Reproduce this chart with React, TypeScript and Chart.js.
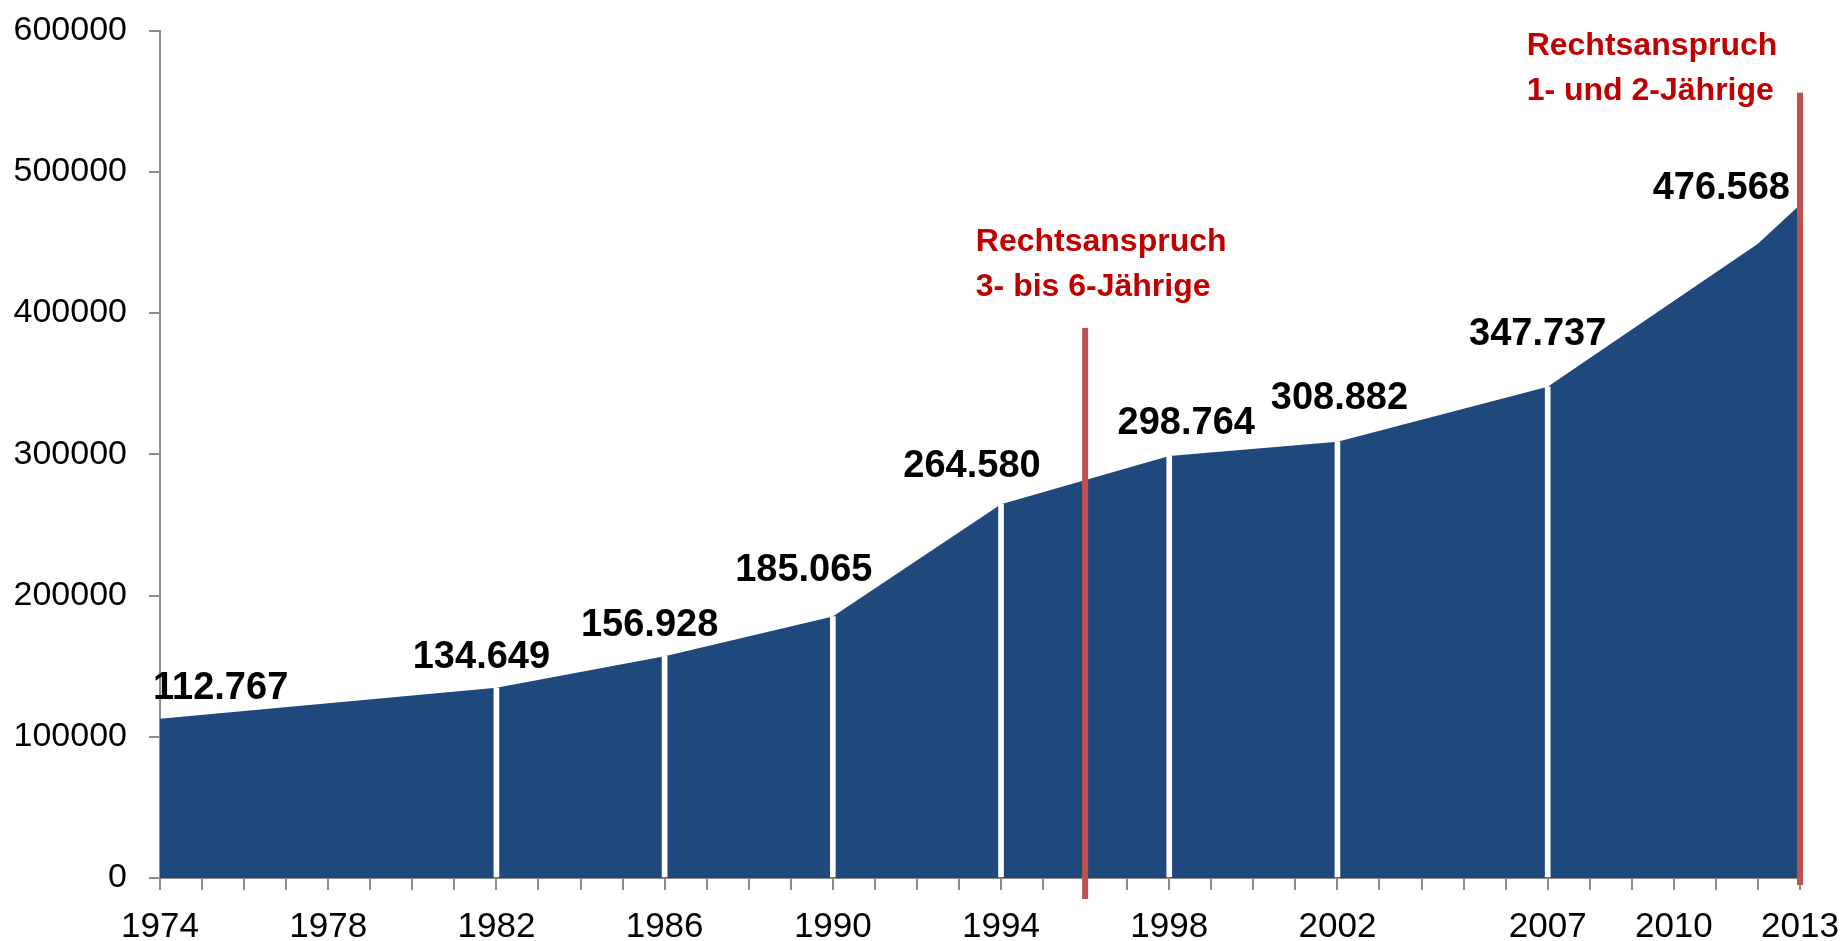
import React, { useEffect, useRef } from "react";
import { Chart, registerables } from "chart.js";

Chart.register(...registerables);

// ---- data ----
const years: string[] = [];
for (let y = 1974; y <= 2013; y++) years.push(String(y));

const pointYears = ["1974", "1982", "1986", "1990", "1994", "1998", "2002", "2007", "2012", "2013"];
const pointValues = [112767, 134649, 156928, 185065, 264580, 298764, 308882, 347737, 449000, 476568];
const labeledYears = ["1974", "1982", "1986", "1990", "1994", "1998", "2002", "2007", "2013"];
const gapYears = ["1982", "1986", "1990", "1994", "1998", "2002", "2007"];
const shownTickYears = ["1974", "1978", "1982", "1986", "1990", "1994", "1998", "2002", "2007", "2010", "2013"];

const markerYears = ["1996", "2013"];
const markerTops = [389500, 556000];
const noteLines = [
  ["Rechtsanspruch", "3- bis 6-Jährige"],
  ["Rechtsanspruch", "1- und 2-Jährige"],
];
const noteAnchorYears = [1993.4, 2006.5]; // left edge of note text, in years
const noteAnchorValues = [443800, 583000]; // baseline of first line

// manual label nudges (px) relative to the point, as placed in the original
const labelAlign = ["left", "center", "center", "center", "center", "center", "center", "center", "right"];
const labelDx = [-7, -15, -15, -29, -29, 17, 2, -10, -10];
const labelDy = [20, 20, 20, 36, 27, 22, 33, 42, 6];

const areaData = years.map((y) => {
  const i = pointYears.indexOf(y);
  return i >= 0 ? pointValues[i] : null;
});
const gapData = years.map((y) => {
  const i = pointYears.indexOf(y);
  return gapYears.includes(y) && i >= 0 ? pointValues[i] : null;
});

const annotPlugin = {
  id: "annot",
  afterDraw(chart: any) {
    const ctx = chart.ctx;
    const xs = chart.scales.x;
    const ys = chart.scales.y;
    const meta = chart.getDatasetMeta(1);
    ctx.save();
    // red marker lines
    markerYears.forEach((yr, i) => {
      const x = xs.getPixelForValue(years.indexOf(yr));
      const top = ys.getPixelForValue(markerTops[i]);
      const bottom = ys.getPixelForValue(0) + (i === 0 ? 21 : 7);
      ctx.fillStyle = "#c0504d";
      ctx.fillRect(x - 3, top, 6, bottom - top);
    });
    // notes
    ctx.fillStyle = "#c00000";
    ctx.font = "bold 32px 'Liberation Sans', Arial, sans-serif";
    ctx.textAlign = "left";
    ctx.textBaseline = "alphabetic";
    noteLines.forEach((lines, i) => {
      const x = xs.getPixelForValue(noteAnchorYears[i] - 1974);
      const y0 = ys.getPixelForValue(noteAnchorValues[i]);
      lines.forEach((t, j) => ctx.fillText(t, x, y0 + j * 45));
    });
    // data labels
    ctx.fillStyle = "#000000";
    ctx.font = "bold 38px 'Liberation Sans', Arial, sans-serif";
    labeledYears.forEach((yr, k) => {
      const idx = years.indexOf(yr);
      const el = meta.data[idx];
      if (!el) return;
      const v = areaData[idx] as number;
      const text = v.toLocaleString("de-DE");
      ctx.textAlign = labelAlign[k];
      ctx.fillText(text, el.x + labelDx[k], el.y - labelDy[k]);
    });
    ctx.restore();
  },
};

export default function App() {
  const ref = useRef<HTMLCanvasElement | null>(null);
  useEffect(() => {
    document.body.style.margin = "0";
    if (!ref.current) return;
    const xFont = { family: "'Liberation Sans', Arial, sans-serif", size: 35 };
    const yFont = { family: "'Liberation Sans', Arial, sans-serif", size: 34, lineHeight: 0.5 };
    const chart = new Chart(ref.current, {
      type: "line",
      data: {
        labels: years,
        datasets: [
          {
            type: "bar",
            data: gapData,
            backgroundColor: "#ffffff",
            barThickness: 5,
            order: 0,
          } as any,
          {
            type: "line",
            data: areaData,
            fill: "origin",
            backgroundColor: "#1f497d",
            borderWidth: 0,
            pointRadius: 0,
            tension: 0,
            spanGaps: true,
            order: 1,
          },
        ],
      },
      options: {
        animation: false,
        responsive: true,
        maintainAspectRatio: false,
        layout: { padding: { top: 25, right: 47, bottom: 0, left: 0 } },
        plugins: { legend: { display: false }, tooltip: { enabled: false } },
        scales: {
          x: {
            type: "category",
            offset: false,
            afterFit: (s: any) => {
              s.height = 63;
              s.paddingLeft = 0;
              s.paddingRight = 0;
            },
            grid: {
              offset: false,
              display: true,
              drawOnChartArea: false,
              drawTicks: true,
              tickLength: 12,
              color: "#8c8c8c",
              lineWidth: 2,
            },
            border: { display: true, color: "#8c8c8c", width: 2 },
            ticks: {
              autoSkip: false,
              maxRotation: 0,
              minRotation: 0,
              padding: 16,
              color: "#000000",
              font: xFont,
              callback: (_v: any, i: number) => (shownTickYears.includes(years[i]) ? years[i] : ""),
            },
          },
          y: {
            min: 0,
            max: 600000,
            afterFit: (s: any) => {
              s.width = 160;
            },
            grid: {
              display: true,
              drawOnChartArea: false,
              drawTicks: true,
              tickLength: 11,
              color: "#8c8c8c",
              lineWidth: 2,
            },
            border: { display: true, color: "#8c8c8c", width: 2 },
            ticks: {
              stepSize: 100000,
              padding: 22,
              color: "#000000",
              font: yFont,
              callback: (v: any) => String(v),
            },
          },
        },
      },
      plugins: [annotPlugin],
    });
    return () => chart.destroy();
  }, []);
  return (
    <div style={{ width: "1847px", height: "941px", position: "relative", overflow: "hidden" }}>
      <canvas ref={ref} />
    </div>
  );
}
